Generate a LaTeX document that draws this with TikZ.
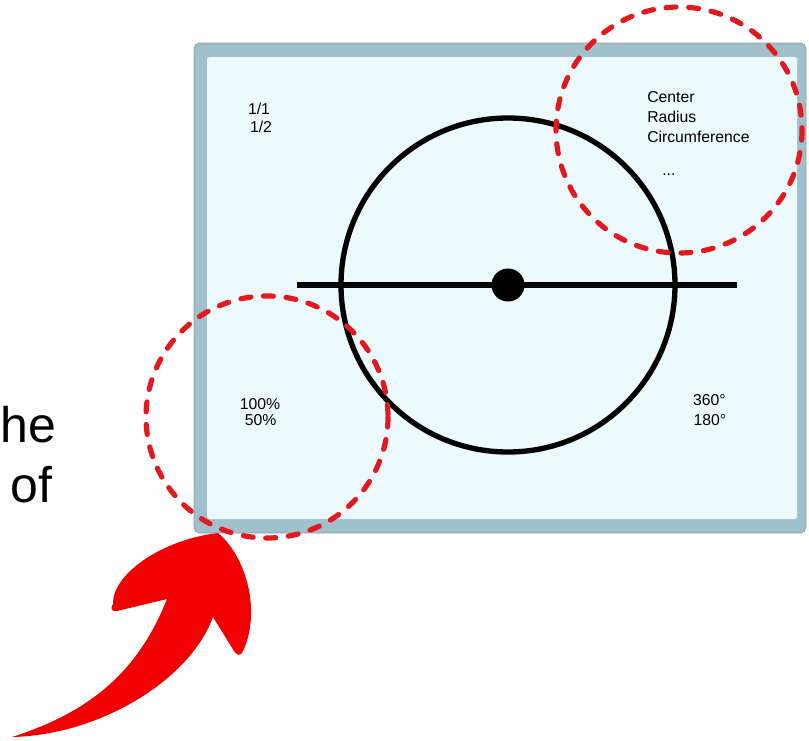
\documentclass[tikz,border=0pt]{standalone}
\usepackage{fontspec}
\setmainfont{Liberation Sans}
\usetikzlibrary{positioning}
\definecolor{rim}{RGB}{160,192,203}
\definecolor{rimline}{RGB}{140,156,164}
\definecolor{pane}{RGB}{237,250,253}
\definecolor{hilite}{RGB}{226,26,32}
\definecolor{arrowred}{RGB}{240,0,0}
\tikzset{
    pen/.style = {line width=4pt, black},
    hoop/.style = {
      hilite,
      line width=3.9pt,
      dash pattern=on 7.5pt off 9.5pt,
      line cap=round
    },
    note/.style = {font=\fontsize{11.8}{14}\selectfont, inner sep=0pt},
    big/.style = {font=\fontsize{37.5}{45}\selectfont, inner sep=0pt, anchor=base west},
}
\begin{document}
\begin{tikzpicture}[x=0.75pt, y=-0.75pt]
  \useasboundingbox (0,0) rectangle (809,740);

  % window
  \draw[rimline, fill=rim, rounded corners=4] (194,43) rectangle (806,533);
  \fill[pane, rounded corners=2] (207,57) rectangle (797,519);

  % circle with diameter
  \coordinate (o) at (508,285);
  \coordinate (dleft) at (297,285);
  \coordinate (dright) at (737,285);
  \draw[pen] (o) circle[radius=167];
  \draw[pen] (dleft) -- (dright);
  \fill (o) circle[radius=16.5];

  % labels
  \node[note, anchor=base] (frac1) at (259,114) {1/1};
  \node[note, anchor=base] (frac2) at (261,132) {1/2};
  \node[note, anchor=base west] (center) at (647,102.7) {Center};
  \node[note, anchor=base west] (radius) at (647,122.7) {Radius};
  \node[note, anchor=base west] (circum) at (647,142.7) {Circumference};
  \node[note, anchor=base west] (dots) at (662,175) {...};
  \node[note, anchor=base] (pct100) at (260,409) {100\%};
  \node[note, anchor=base] (pct50) at (260.5,425) {50\%};
  \node[note, anchor=base] (deg360) at (709.5,405) {360°};
  \node[note, anchor=base] (deg180) at (710,425.7) {180°};

  % text at the left edge
  \node[big] (line1) at (0,442) {he};
  \node[big] (line2) at (10,502) {of};

  % highlight rings
  \draw[hoop] (679,130) circle[radius=123];
  \draw[hoop] (267,417) circle[radius=121];

  % curved arrow
  \fill[arrowred] (218,533) .. controls (245,555) and (262,610) .. (243,651)
        .. controls (241,656) and (237,656) .. (234,651) -- (213,617)
        .. controls (190,680) and (100,735) .. (12,737)
        .. controls (80,715) and (135,680) .. (167,599)
        -- (117,611) .. controls (111,612) and (110,608) .. (113,604)
        .. controls (112,575) and (160,540) .. (218,533) -- cycle;
\end{tikzpicture}
\end{document}
